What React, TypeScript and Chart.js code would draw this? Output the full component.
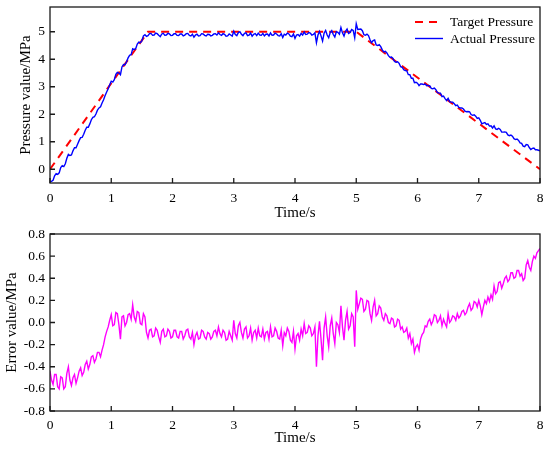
import { useEffect, useRef } from 'react'
import { Chart, registerables } from 'chart.js'

Chart.register(...registerables)

// both measured series are sampled every 0.025 s from 0 to 8 s
const SAMPLE_STEP = 0.025

const timeTicks = [0, 1, 2, 3, 4, 5, 6, 7, 8]
const pressureTicks = [0, 1, 2, 3, 4, 5]
const errorTicks = [-0.8, -0.6, -0.4, -0.2, 0, 0.2, 0.4, 0.6, 0.8]

const targetTimes = [0, 1.6, 5, 8]
const targetPressure = [0, 5, 5, 0]

const actualPressure = [
  -0.44, -0.44, -0.40, -0.24, -0.16, -0.19, -0.13, 0.06,
  0.13, 0.10, 0.20, 0.40, 0.54, 0.50, 0.52, 0.67,
  0.78, 0.78, 0.91, 1.04, 1.15, 1.16, 1.27, 1.42,
  1.53, 1.53, 1.65, 1.80, 1.89, 1.91, 2.01, 2.15,
  2.23, 2.27, 2.41, 2.53, 2.68, 2.81, 2.93, 3.07,
  3.20, 3.17, 3.26, 3.45, 3.52, 3.50, 3.44, 3.72,
  3.81, 3.80, 3.91, 4.05, 4.14, 4.17, 4.38, 4.35,
  4.39, 4.55, 4.62, 4.60, 4.67, 4.85, 4.89, 4.83,
  4.86, 4.93, 4.94, 4.87, 4.88, 4.95, 4.93, 4.87,
  4.82, 4.92, 4.94, 4.87, 4.88, 4.94, 4.92, 4.86,
  4.87, 4.93, 4.93, 4.87, 4.86, 4.92, 4.92, 4.85,
  4.88, 4.93, 4.94, 4.87, 4.85, 4.91, 4.80, 4.88,
  4.91, 4.85, 4.86, 4.93, 4.92, 4.87, 4.85, 4.91,
  4.90, 4.85, 4.87, 4.92, 4.93, 4.88, 4.96, 4.90,
  4.87, 4.93, 4.91, 4.84, 4.85, 4.92, 4.88, 4.84,
  5.02, 4.90, 4.86, 4.97, 5.00, 4.91, 4.86, 4.94,
  4.96, 4.86, 4.88, 4.95, 4.84, 4.91, 4.93, 4.86,
  4.95, 4.88, 4.87, 4.94, 4.85, 4.91, 4.92, 4.85,
  4.96, 4.87, 4.88, 4.95, 4.92, 4.86, 4.85, 4.93,
  4.79, 4.91, 4.88, 4.95, 4.92, 4.84, 4.82, 4.92,
  4.76, 4.88, 4.90, 4.84, 4.94, 4.88, 4.99, 4.90,
  4.91, 4.97, 4.95, 4.88, 4.90, 4.96, 4.60, 4.88,
  5.01, 4.85, 4.66, 4.95, 5.05, 4.88, 4.78, 4.97,
  5.04, 4.90, 4.81, 5.00, 4.98, 4.91, 5.15, 4.96,
  4.84, 5.02, 5.10, 4.94, 4.97, 5.08, 5.05, 4.78,
  5.29, 5.08, 5.09, 5.10, 5.04, 4.89, 4.87, 4.91,
  4.86, 4.71, 4.60, 4.68, 4.70, 4.52, 4.50, 4.53,
  4.46, 4.34, 4.27, 4.29, 4.23, 4.13, 4.07, 4.08,
  4.03, 3.92, 3.89, 3.91, 3.85, 3.73, 3.71, 3.62,
  3.59, 3.58, 3.44, 3.44, 3.31, 3.31, 3.15, 3.16,
  3.13, 3.04, 3.10, 3.10, 3.08, 3.10, 3.04, 3.05,
  3.03, 2.94, 2.93, 2.95, 2.89, 2.79, 2.77, 2.77,
  2.64, 2.66, 2.57, 2.50, 2.58, 2.46, 2.44, 2.44,
  2.38, 2.31, 2.33, 2.25, 2.23, 2.23, 2.19, 2.11,
  2.09, 2.10, 2.09, 1.99, 1.96, 1.98, 1.93, 1.85,
  1.87, 1.78, 1.65, 1.68, 1.70, 1.63, 1.65, 1.57,
  1.58, 1.50, 1.58, 1.47, 1.45, 1.49, 1.45, 1.35,
  1.35, 1.36, 1.34, 1.25, 1.22, 1.24, 1.20, 1.11,
  1.08, 1.10, 1.05, 0.96, 0.94, 0.84, 0.82, 0.90,
  0.89, 0.79, 0.72, 0.76, 0.77, 0.71, 0.71, 0.69,
  0.67,
]

const errorValues = [
  -0.44, -0.52, -0.56, -0.47, -0.47, -0.58, -0.60, -0.49,
  -0.50, -0.60, -0.58, -0.46, -0.40, -0.52, -0.57, -0.50,
  -0.47, -0.55, -0.50, -0.44, -0.41, -0.48, -0.45, -0.38,
  -0.35, -0.42, -0.38, -0.31, -0.30, -0.36, -0.33, -0.27,
  -0.27, -0.31, -0.25, -0.20, -0.13, -0.08, -0.04, 0.02,
  0.07, -0.03, -0.02, 0.09, 0.08, -0.02, -0.15, 0.05,
  0.06, -0.03, 0.00, 0.07, 0.08, 0.03, 0.16, 0.05,
  0.01, 0.10, 0.09, -0.01, -0.02, 0.08, 0.05, -0.09,
  -0.14, -0.07, -0.06, -0.13, -0.12, -0.05, -0.07, -0.13,
  -0.18, -0.08, -0.06, -0.13, -0.12, -0.06, -0.08, -0.14,
  -0.13, -0.07, -0.07, -0.13, -0.14, -0.08, -0.08, -0.15,
  -0.12, -0.07, -0.06, -0.13, -0.15, -0.09, -0.20, -0.12,
  -0.09, -0.15, -0.14, -0.07, -0.08, -0.13, -0.15, -0.09,
  -0.10, -0.15, -0.13, -0.08, -0.07, -0.12, -0.04, -0.10,
  -0.13, -0.07, -0.09, -0.16, -0.15, -0.08, -0.12, -0.16,
  0.02, -0.10, -0.14, -0.03, 0.00, -0.09, -0.14, -0.06,
  -0.04, -0.14, -0.12, -0.05, -0.16, -0.09, -0.07, -0.14,
  -0.05, -0.12, -0.13, -0.06, -0.15, -0.09, -0.08, -0.15,
  -0.04, -0.13, -0.12, -0.05, -0.08, -0.14, -0.15, -0.07,
  -0.21, -0.09, -0.12, -0.05, -0.08, -0.16, -0.18, -0.08,
  -0.24, -0.12, -0.10, -0.16, -0.06, -0.12, -0.01, -0.10,
  -0.09, -0.03, -0.05, -0.12, -0.10, -0.04, -0.40, -0.12,
  0.01, -0.15, -0.34, -0.05, 0.05, -0.12, -0.22, -0.03,
  0.04, -0.10, -0.19, 0.00, -0.02, -0.09, 0.15, -0.04,
  -0.16, 0.02, 0.10, -0.06, -0.03, 0.08, 0.05, -0.22,
  0.29, 0.12, 0.17, 0.22, 0.21, 0.10, 0.12, 0.20,
  0.19, 0.08, 0.02, 0.14, 0.20, 0.06, 0.08, 0.15,
  0.13, 0.05, 0.02, 0.08, 0.06, 0.00, -0.01, 0.04,
  0.03, -0.04, -0.03, 0.03, 0.02, -0.06, -0.04, -0.09,
  -0.08, -0.05, -0.14, -0.10, -0.19, -0.15, -0.27, -0.22,
  -0.20, -0.25, -0.15, -0.11, -0.09, -0.03, -0.04, 0.01,
  0.03, -0.02, 0.01, 0.07, 0.06, 0.00, 0.02, 0.06,
  -0.03, 0.03, -0.01, -0.04, 0.08, 0.00, 0.02, 0.06,
  0.05, 0.02, 0.08, 0.04, 0.06, 0.10, 0.11, 0.07,
  0.09, 0.14, 0.17, 0.11, 0.13, 0.19, 0.18, 0.14,
  0.20, 0.15, 0.07, 0.14, 0.20, 0.17, 0.23, 0.19,
  0.25, 0.21, 0.33, 0.26, 0.28, 0.36, 0.37, 0.31,
  0.35, 0.40, 0.42, 0.37, 0.39, 0.45, 0.45, 0.40,
  0.41, 0.47, 0.47, 0.42, 0.44, 0.38, 0.40, 0.52,
  0.56, 0.50, 0.47, 0.55, 0.60, 0.58, 0.63, 0.65,
  0.67,
]

const FONT = '"Liberation Serif", "Times New Roman", serif'

function sampled(values: number[]) {
  return values.map((y, i) => ({ x: +(i * SAMPLE_STEP).toFixed(3), y }))
}

// box round the plot area plus short inward tick marks
const framePlugin = {
  id: 'frame',
  afterDraw(chart: any) {
    const { ctx, chartArea: a, scales } = chart
    ctx.save()
    ctx.strokeStyle = '#1a1a1a'
    ctx.lineWidth = 1.3
    ctx.strokeRect(a.left, a.top, a.right - a.left, a.bottom - a.top)
    ctx.beginPath()
    for (const t of scales.x.ticks) {
      const px = scales.x.getPixelForValue(t.value)
      ctx.moveTo(px, a.bottom)
      ctx.lineTo(px, a.bottom - 5)
    }
    for (const t of scales.y.ticks) {
      const py = scales.y.getPixelForValue(t.value)
      ctx.moveTo(a.left, py)
      ctx.lineTo(a.left + 5, py)
    }
    ctx.stroke()
    ctx.restore()
  },
}

// legend drawn inside the top-right corner
const insideLegend = {
  id: 'insideLegend',
  afterDraw(chart: any) {
    const { ctx, chartArea: a } = chart
    const x0 = a.right - 125
    ctx.save()
    ctx.font = `13.5px ${FONT}`
    ctx.fillStyle = '#000'
    ctx.textBaseline = 'middle'
    chart.data.datasets.forEach((ds: any, i: number) => {
      const y = a.top + 15 + i * 16.5
      ctx.beginPath()
      ctx.strokeStyle = ds.borderColor
      ctx.lineWidth = ds.borderWidth
      ctx.setLineDash(ds.borderDash || [])
      ctx.moveTo(x0, y)
      ctx.lineTo(x0 + 28, y)
      ctx.stroke()
      ctx.setLineDash([])
      ctx.fillText(ds.label, x0 + 35, y + 0.5)
    })
    ctx.restore()
  },
}

interface AxisSetup {
  yTitle: string
  yMin: number
  yMax: number
  yTicks: number[]
  yWidth: number
  xHeight: number
  xPad: number
  decimals: number
  padding: { top: number; right: number; bottom: number; left: number }
}

function makeOptions(s: AxisSetup): any {
  return {
    responsive: false,
    animation: false,
    events: [],
    layout: { padding: s.padding },
    plugins: { legend: { display: false }, tooltip: { enabled: false } },
    elements: { point: { radius: 0 }, line: { tension: 0 } },
    scales: {
      x: {
        type: 'linear',
        min: 0,
        max: 8,
        grid: { display: false, drawTicks: false },
        border: { display: false },
        afterBuildTicks: (sc: any) => { sc.ticks = timeTicks.map((value) => ({ value })) },
        afterFit: (sc: any) => {
          sc.height = s.xHeight
          sc.paddingLeft = 0
          sc.paddingRight = 0
        },
        ticks: { color: '#000', padding: s.xPad, font: { family: FONT, size: 13.5 }, maxRotation: 0 },
        title: { display: true, text: 'Time/s', color: '#000', padding: 0, font: { family: FONT, size: 15, lineHeight: 1.2 } },
      },
      y: {
        type: 'linear',
        min: s.yMin,
        max: s.yMax,
        grid: { display: false, drawTicks: false },
        border: { display: false },
        afterBuildTicks: (sc: any) => { sc.ticks = s.yTicks.map((value) => ({ value })) },
        afterFit: (sc: any) => {
          sc.width = s.yWidth
          sc.paddingTop = 0
          sc.paddingBottom = 0
        },
        ticks: {
          color: '#000',
          padding: 5,
          font: { family: FONT, size: 13.5 },
          callback: (v: any) => Number(v).toFixed(s.decimals),
        },
        title: { display: true, text: s.yTitle, color: '#000', padding: 0, font: { family: FONT, size: 15, lineHeight: 1.2 } },
      },
    },
  }
}

export default function App() {
  const topRef = useRef<HTMLCanvasElement>(null)
  const bottomRef = useRef<HTMLCanvasElement>(null)

  useEffect(() => {
    document.body.style.margin = '0'
    if (!topRef.current || !bottomRef.current) return

    const top = new Chart(topRef.current, {
      type: 'line',
      data: {
        datasets: [
          {
            label: 'Target Pressure',
            data: targetTimes.map((x, i) => ({ x, y: targetPressure[i] })),
            borderColor: '#ff0000',
            borderWidth: 2,
            borderDash: [8, 6],
            order: 2,
          },
          {
            label: 'Actual Pressure',
            data: sampled(actualPressure),
            borderColor: '#0000ff',
            borderWidth: 1.4,
            order: 1,
          },
        ],
      },
      options: makeOptions({
        yTitle: 'Pressure value/MPa',
        yMin: -0.5,
        yMax: 5.9,
        yTicks: pressureTicks,
        yWidth: 33,
        xHeight: 39,
        xPad: 7,
        decimals: 0,
        padding: { top: 7, right: 10, bottom: 3, left: 17 },
      }),
      plugins: [framePlugin, insideLegend],
    })

    const bottom = new Chart(bottomRef.current, {
      type: 'line',
      data: {
        datasets: [
          {
            label: 'Error',
            data: sampled(errorValues),
            borderColor: '#ff00ff',
            borderWidth: 1.4,
          },
        ],
      },
      options: makeOptions({
        yTitle: 'Error value/MPa',
        yMin: -0.8,
        yMax: 0.8,
        yTicks: errorTicks,
        yWidth: 47,
        xHeight: 36,
        xPad: 6,
        decimals: 1,
        padding: { top: 9, right: 10, bottom: 3, left: 3 },
      }),
      plugins: [framePlugin],
    })

    return () => {
      top.destroy()
      bottom.destroy()
    }
  }, [])

  return (
    <div style={{ width: 550, height: 450, background: '#fff' }}>
      <canvas ref={topRef} width={550} height={225} style={{ display: 'block', width: 550, height: 225 }} />
      <canvas ref={bottomRef} width={550} height={225} style={{ display: 'block', width: 550, height: 225 }} />
    </div>
  )
}
